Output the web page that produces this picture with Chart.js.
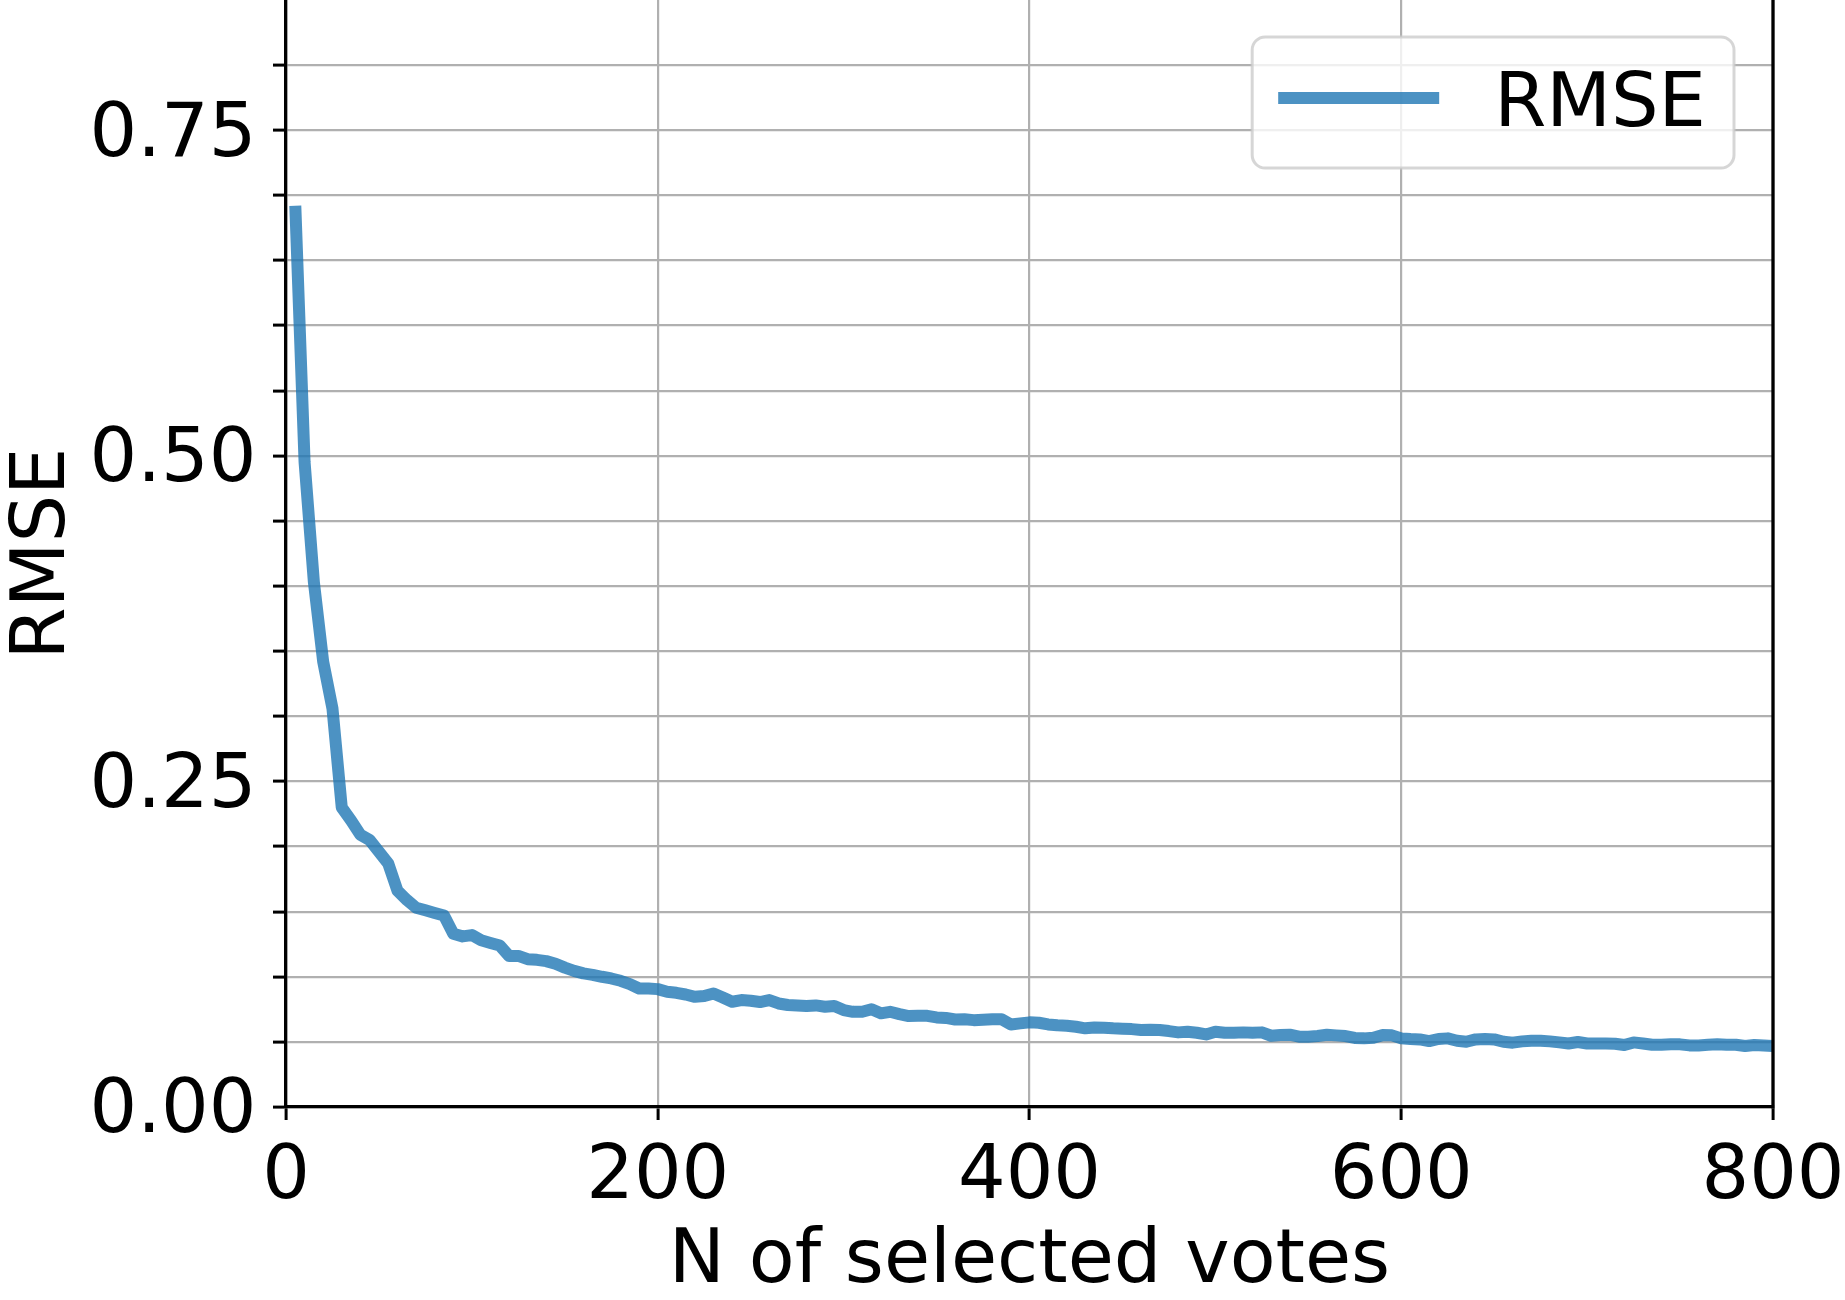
<!DOCTYPE html>
<html>
<head>
<meta charset="utf-8">
<script src="https://cdn.jsdelivr.net/npm/chart.js@4.4.1/dist/chart.umd.min.js"></script>
<style>
  html, body { margin: 0; padding: 0; background: #ffffff; }
  #wrap { width: 1845px; height: 1300px; position: relative; }
  canvas { display: block; }
</style>
</head>
<body>
<div id="wrap"><canvas id="c" width="1845" height="1300"></canvas></div>
<script>
// ---------------- data ----------------
const seriesLabel = 'RMSE';
const xTitle = 'N of selected votes';
const yTitle = 'RMSE';
const xTickLabels = ['0', '200', '400', '600', '800'];
const yTickLabels = ['0.00', '0.25', '0.50', '0.75'];

const nVotes = [
  5, 10, 15, 20, 25, 30, 35, 40, 45, 50, 55, 60, 65, 70, 75, 80, 85, 90, 95, 100,
  105, 110, 115, 120, 125, 130, 135, 140, 145, 150, 155, 160, 165, 170, 175, 180, 185, 190, 195, 200,
  205, 210, 215, 220, 225, 230, 235, 240, 245, 250, 255, 260, 265, 270, 275, 280, 285, 290, 295, 300,
  305, 310, 315, 320, 325, 330, 335, 340, 345, 350, 355, 360, 365, 370, 375, 380, 385, 390, 395, 400,
  405, 410, 415, 420, 425, 430, 435, 440, 445, 450, 455, 460, 465, 470, 475, 480, 485, 490, 495, 500,
  505, 510, 515, 520, 525, 530, 535, 540, 545, 550, 555, 560, 565, 570, 575, 580, 585, 590, 595, 600,
  605, 610, 615, 620, 625, 630, 635, 640, 645, 650, 655, 660, 665, 670, 675, 680, 685, 690, 695, 700,
  705, 710, 715, 720, 725, 730, 735, 740, 745, 750, 755, 760, 765, 770, 775, 780, 785, 790, 795, 800
];

const rmse = [
  0.692, 0.495, 0.403, 0.342, 0.306, 0.230, 0.220, 0.209, 0.205, 0.196,
  0.187, 0.166, 0.159, 0.153, 0.151, 0.149, 0.147, 0.133, 0.131, 0.132,
  0.128, 0.126, 0.124, 0.116, 0.116, 0.1135, 0.113, 0.112, 0.110, 0.107,
  0.1045, 0.1026, 0.1015, 0.100, 0.0987, 0.0969, 0.0944, 0.091, 0.091, 0.0905,
  0.0885, 0.0877, 0.0864, 0.0846, 0.0852, 0.0872, 0.0841, 0.0808, 0.0821, 0.0816,
  0.0806, 0.0821, 0.0795, 0.0783, 0.0780, 0.0775, 0.0780, 0.0770, 0.0775, 0.0744,
  0.0731, 0.0731, 0.0750, 0.0719, 0.0731, 0.0713, 0.0698, 0.0700, 0.0700, 0.0688,
  0.0684, 0.0672, 0.0673, 0.0667, 0.0670, 0.0673, 0.0673, 0.0634, 0.0642, 0.0650,
  0.0647, 0.0634, 0.0627, 0.0624, 0.0616, 0.0604, 0.0611, 0.0609, 0.0604, 0.0601,
  0.0598, 0.0591, 0.0593, 0.0591, 0.0583, 0.0573, 0.0578, 0.0570, 0.0557, 0.0578,
  0.0570, 0.0570, 0.0573, 0.0570, 0.0573, 0.0547, 0.0552, 0.0555, 0.0540, 0.0540,
  0.0545, 0.0555, 0.0550, 0.0545, 0.0530, 0.0527, 0.0532, 0.0552, 0.0550, 0.0527,
  0.0522, 0.0519, 0.0506, 0.0522, 0.0527, 0.0509, 0.0501, 0.0519, 0.0522, 0.0519,
  0.0501, 0.0494, 0.0504, 0.0509, 0.0509, 0.0504, 0.0496, 0.0488, 0.0499, 0.0488,
  0.0488, 0.0488, 0.0486, 0.0476, 0.0496, 0.0488, 0.0478, 0.0478, 0.0481, 0.0481,
  0.0473, 0.0473, 0.0478, 0.0481, 0.0478, 0.0478, 0.0468, 0.0476, 0.0473, 0.0468
];

// ---------------- styling ----------------
const FONT = '"DejaVu Sans", "Liberation Sans", sans-serif';
const FONT_SIZE = 75;
const LINE_COLOR = 'rgba(31,119,180,0.8)';
const GRID_COLOR = '#b0b0b0';

const points = nVotes.map((x, i) => ({ x: x, y: rmse[i] }));

// matplotlib-like legend box + right spine
const mplPlugin = {
  id: 'mplExtras',
  afterDatasetsDraw(chart) {
    const { ctx, chartArea } = chart;
    const ds = chart.data.datasets[0];
    ctx.save();
    // right spine
    ctx.strokeStyle = '#000';
    ctx.lineWidth = 3.3;
    ctx.beginPath();
    ctx.moveTo(chartArea.right, chartArea.top);
    ctx.lineTo(chartArea.right, chartArea.bottom + 1.6);
    ctx.stroke();

    // legend
    ctx.font = FONT_SIZE + 'px ' + FONT;
    const tw = ctx.measureText(ds.label).width;
    const padL = 26, sample = 161, gap = 55, padR = 28, h = 131;
    const w = padL + sample + gap + tw + padR;
    const right = chartArea.right - 39;
    const top = chartArea.top + 37;
    const left = right - w;
    const r = 13;
    ctx.beginPath();
    ctx.moveTo(left + r, top);
    ctx.lineTo(right - r, top);
    ctx.arcTo(right, top, right, top + r, r);
    ctx.lineTo(right, top + h - r);
    ctx.arcTo(right, top + h, right - r, top + h, r);
    ctx.lineTo(left + r, top + h);
    ctx.arcTo(left, top + h, left, top + h - r, r);
    ctx.lineTo(left, top + r);
    ctx.arcTo(left, top, left + r, top, r);
    ctx.closePath();
    ctx.fillStyle = 'rgba(255,255,255,0.8)';
    ctx.fill();
    ctx.strokeStyle = 'rgba(204,204,204,0.8)';
    ctx.lineWidth = 3;
    ctx.stroke();

    ctx.strokeStyle = ds.borderColor;
    ctx.lineWidth = ds.borderWidth;
    ctx.lineCap = 'butt';
    ctx.beginPath();
    ctx.moveTo(left + padL, top + 61);
    ctx.lineTo(left + padL + sample, top + 61);
    ctx.stroke();

    ctx.fillStyle = '#000';
    ctx.textBaseline = 'alphabetic';
    ctx.textAlign = 'left';
    ctx.fillText(ds.label, left + padL + sample + gap, top + 88.5);
    ctx.restore();
  }
};

const hideTop = (c) => (c.tick && c.tick.value > 0.845) ? 'rgba(0,0,0,0)' : null;

new Chart(document.getElementById('c'), {
  type: 'line',
  data: {
    datasets: [{
      label: seriesLabel,
      data: points,
      borderColor: LINE_COLOR,
      backgroundColor: LINE_COLOR,
      borderWidth: 12,
      pointRadius: 0,
      pointHoverRadius: 0,
      tension: 0,
      fill: false,
      borderJoinStyle: 'round',
      borderCapStyle: 'butt'
    }]
  },
  options: {
    responsive: false,
    animation: false,
    devicePixelRatio: 1,
    layout: { padding: { top: 0, left: 0, right: 72, bottom: 0 } },
    plugins: {
      legend: { display: false },
      tooltip: { enabled: false }
    },
    scales: {
      x: {
        type: 'linear',
        min: 0,
        max: 800,
        ticks: {
          stepSize: 200,
          color: '#000',
          font: { family: FONT, size: FONT_SIZE },
          padding: 14,
          maxRotation: 0,
          callback: (v) => xTickLabels[Math.round(v / 200)]
        },
        grid: {
          color: GRID_COLOR,
          lineWidth: 2.2,
          drawTicks: true,
          tickLength: 13,
          tickWidth: 3,
          tickColor: '#000'
        },
        border: { display: true, color: '#000', width: 3.3 },
        title: {
          display: true,
          text: xTitle,
          color: '#000',
          font: { family: FONT, size: FONT_SIZE, lineHeight: 1 },
          padding: { top: 0, bottom: 0 }
        },
        afterFit: (s) => { s.height = 193; s.paddingLeft = 0; s.paddingRight = 0; }
      },
      y: {
        type: 'linear',
        min: 0,
        max: 0.85,
        ticks: {
          stepSize: 0.05,
          color: '#000',
          font: { family: FONT, size: FONT_SIZE },
          padding: 16.5,
          labelOffset: 6,
          autoSkip: false,
          callback: (v) => {
            const k = Math.round(v / 0.05);
            if (k % 5 === 0 && yTickLabels[k / 5] !== undefined) return yTickLabels[k / 5];
            return '';
          }
        },
        grid: {
          color: (c) => hideTop(c) || GRID_COLOR,
          lineWidth: 2.2,
          drawTicks: true,
          tickLength: 13,
          tickWidth: 3,
          tickColor: (c) => hideTop(c) || '#000'
        },
        border: { display: true, color: '#000', width: 3.3 },
        title: {
          display: true,
          text: yTitle,
          color: '#000',
          font: { family: FONT, size: FONT_SIZE, lineHeight: 1.2 },
          padding: { top: 0, bottom: 0 }
        },
        afterFit: (s) => { s.width = 286; s.paddingTop = 0; s.paddingBottom = 0; }
      }
    }
  },
  plugins: [mplPlugin]
});
</script>
</body>
</html>
